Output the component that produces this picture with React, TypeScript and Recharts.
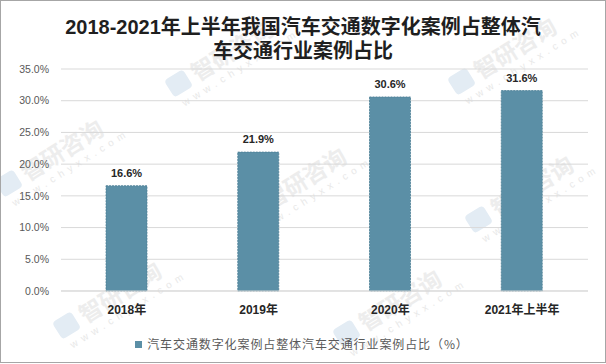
import { BarChart, Bar, XAxis, YAxis, CartesianGrid, LabelList } from "recharts";

const TITLE_LINES = ["2018-2021年上半年我国汽车交通数字化案例占整体汽", "车交通行业案例占比"];
const SERIES_NAME = "汽车交通数字化案例占整体汽车交通行业案例占比（%）";
const CATEGORIES = ["2018年", "2019年", "2020年", "2021年上半年"];
const VALUES = [16.6, 21.9, 30.6, 31.6];
const Y_TICKS = [0, 5, 10, 15, 20, 25, 30, 35];

const BAR_COLOR = "#5b8fa6";
const FONT = '"Liberation Sans", Arial, "Noto Sans CJK SC", sans-serif';

const data = CATEGORIES.map((name, i) => ({ name, value: VALUES[i] }));

// faint "智研咨询" watermark stamps behind the plot
const MARKS: [number, number][] = [
  [232, 50],
  [515, 48],
  [62, 150],
  [305, 178],
  [532, 186],
  [120, 292],
  [400, 300],
];

function Watermark({ x, y }: { x: number; y: number }) {
  return (
    <div
      style={{
        position: "absolute",
        left: x,
        top: y,
        width: 0,
        height: 0,
        transform: "rotate(-32deg)",
        fontFamily: '"Noto Sans CJK SC", sans-serif',
      }}
    >
      <div
        style={{
          position: "absolute",
          left: -74,
          top: -10,
          width: 22,
          height: 20,
          borderRadius: 4,
          background: "#e3ecf4",
        }}
      />
      <div
        style={{
          position: "absolute",
          left: -46,
          top: -16,
          width: 92,
          fontSize: 23,
          lineHeight: "30px",
          fontWeight: 700,
          color: "#ededed",
          whiteSpace: "nowrap",
        }}
      >
        智研咨询
      </div>
      <div
        style={{
          position: "absolute",
          left: -70,
          top: 14,
          fontSize: 10,
          lineHeight: "12px",
          letterSpacing: 5,
          color: "#e8e8e8",
          whiteSpace: "nowrap",
          fontFamily: FONT,
        }}
      >
        www.chyxx.com
      </div>
    </div>
  );
}

export default function App() {
  return (
    <div
      style={{
        position: "absolute",
        left: 0,
        top: 0,
        width: 604,
        height: 361,
        border: "1px solid #a6a6a6",
        background: "#fff",
        overflow: "hidden",
      }}
    >
      {MARKS.map(([x, y], i) => (
        <Watermark key={i} x={x - 1} y={y - 1} />
      ))}
      <div
        style={{
          position: "absolute",
          left: 0,
          top: 14,
          width: 604,
          textAlign: "center",
          fontFamily: '"Liberation Sans", "Noto Sans CJK SC", sans-serif',
          fontWeight: 700,
          fontSize: 20,
          lineHeight: "24px",
          color: "#1f1f1f",
        }}
      >
        {TITLE_LINES.map((t) => (
          <div key={t}>{t}</div>
        ))}
      </div>
      <div style={{ position: "absolute", left: -1, top: -1 }}>
        <BarChart width={606} height={364} data={data} margin={{ top: 69, right: 18, bottom: 43, left: 0 }}>
          <CartesianGrid vertical={false} stroke="#d9d9d9" />
          <XAxis
            dataKey="name"
            axisLine={{ stroke: "#d9d9d9" }}
            tickLine={false}
            tickMargin={8}
            height={30}
            tick={{ fill: "#262626", fontSize: 12, fontWeight: 700, fontFamily: FONT }}
          />
          <YAxis
            width={61}
            domain={[0, 35]}
            ticks={Y_TICKS}
            axisLine={false}
            tickLine={false}
            tickMargin={6}
            tickFormatter={(v: number) => `${v.toFixed(1)}%`}
            tick={{ fill: "#595959", fontSize: 10.5, fontFamily: FONT }}
          />
          <Bar
            dataKey="value"
            fill={BAR_COLOR}
            stroke="#4d7f95"
            strokeWidth={0.8}
            strokeDasharray="2 1"
            barSize={41}
            isAnimationActive={false}
          >
            <LabelList
              dataKey="value"
              position="top"
              offset={9}
              formatter={(v: any) => `${Number(v).toFixed(1)}%`}
              style={{ fill: "#262626", fontSize: 11, fontWeight: 700, fontFamily: FONT }}
            />
          </Bar>
        </BarChart>
      </div>
      <div
        style={{
          position: "absolute",
          left: 0,
          top: 335,
          width: 602,
          display: "flex",
          justifyContent: "center",
          alignItems: "center",
          fontFamily: '"Noto Sans CJK SC", sans-serif',
          fontSize: 12,
          lineHeight: "16px",
          letterSpacing: 0.9,
          color: "#595959",
        }}
      >
        <span style={{ width: 7, height: 7, background: BAR_COLOR, marginRight: 5, display: "inline-block" }} />
        <span>{SERIES_NAME}</span>
      </div>
    </div>
  );
}
